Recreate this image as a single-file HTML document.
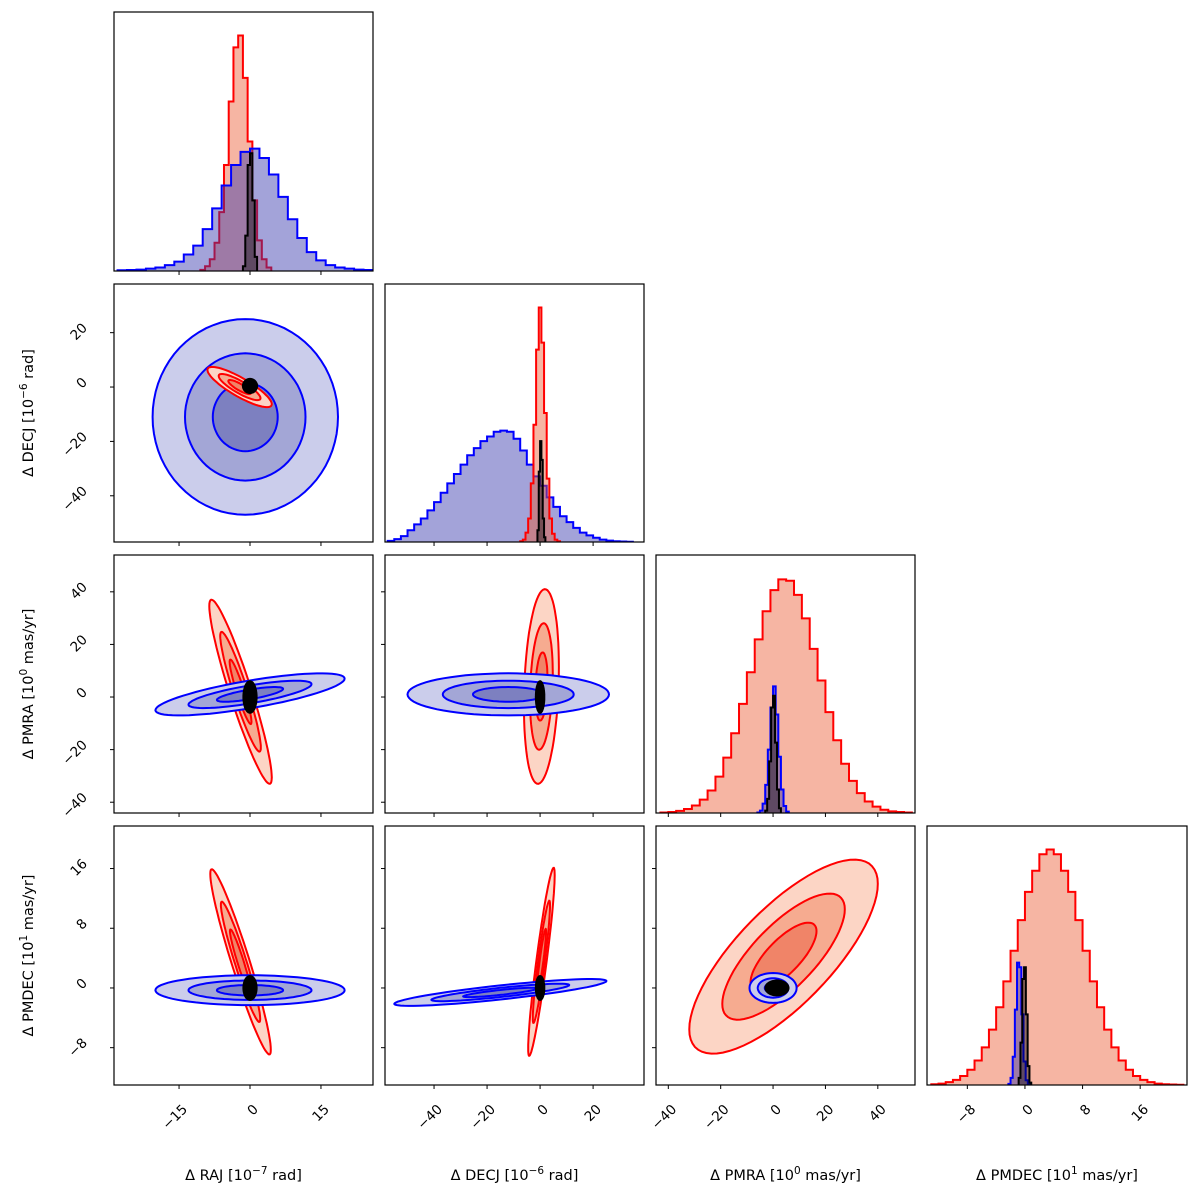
<!DOCTYPE html>
<html><head><meta charset="utf-8"><style>
html,body{margin:0;padding:0;background:#fff;}
svg{display:block;font-family:"DejaVu Sans","Liberation Sans",sans-serif;}
</style></head><body>
<svg id="chart" width="1200" height="1200" viewBox="0 0 1200 1200" xmlns="http://www.w3.org/2000/svg"></svg>
<script>
// ---------- data ----------
const varNames = ["RAJ","DECJ","PMRA","PMDEC"];
const xTicks = [[-15,0,15],[-40,-20,0,20],[-40,-20,0,20,40],[-8,0,8,16]];
const yTicks = [[],[20,0,-20,-40],[40,20,0,-20,-40],[16,8,0,-8]];
// histogram arrays: start, bin width, heights
const h0RedStart=-10.5, h0RedW=1;
const h0Red=[0.005,0.02,0.05,0.12,0.25,0.45,0.72,0.95,1.0,0.82,0.55,0.3,0.13,0.05,0.015];
const h0BlueStart=-28, h0BlueW=2;
const h0Blue=[0.003,0.004,0.006,0.01,0.015,0.025,0.04,0.07,0.108,0.178,0.266,0.363,0.45,0.506,0.52,0.48,0.41,0.315,0.22,0.14,0.08,0.045,0.025,0.015,0.01,0.006,0.004];
const h0BlackStart=-1.5, h0BlackW=0.5;
const h0Black=[0.02,0.15,0.45,0.5,0.3,0.06];
const h1RedStart=-7.5, h1RedW=1;
const h1Red=[0.003,0.01,0.04,0.1,0.25,0.5,0.82,1.0,0.85,0.55,0.27,0.1,0.035,0.01,0.003];
const h1BlueStart=-57.5, h1BlueW=2.5;
const h1Blue=[0.005,0.012,0.025,0.05,0.075,0.1,0.135,0.17,0.21,0.25,0.29,0.33,0.37,0.4,0.43,0.45,0.47,0.475,0.47,0.44,0.39,0.33,0.28,0.24,0.19,0.15,0.11,0.085,0.06,0.04,0.028,0.018,0.01,0.006,0.003,0.002,0.001];
const h1BlackStart=-1, h1BlackW=0.5;
const h1Black=[0.05,0.3,0.43,0.35,0.1,0.02];
const h2RedStart=-43, h2RedW=3;
const h2Red=[0.002,0.004,0.009,0.017,0.032,0.057,0.096,0.155,0.236,0.34,0.465,0.6,0.74,0.86,0.95,0.996,0.99,0.93,0.83,0.7,0.565,0.43,0.31,0.21,0.137,0.085,0.049,0.027,0.014,0.007,0.004,0.002];
const h2BlueStart=-6, h2BlueW=1;
const h2Blue=[0.002,0.01,0.04,0.12,0.27,0.45,0.54,0.42,0.24,0.1,0.03,0.006];
const h2BlackStart=-3, h2BlackW=0.75;
const h2Black=[0.01,0.06,0.22,0.45,0.5,0.3,0.1,0.02];
const h3RedStart=-13, h3RedW=1;
const h3Red=[0.003,0.006,0.012,0.022,0.038,0.065,0.104,0.16,0.235,0.33,0.44,0.57,0.70,0.82,0.91,0.98,1.0,0.98,0.91,0.82,0.70,0.57,0.44,0.33,0.235,0.16,0.104,0.065,0.038,0.022,0.012,0.006,0.003,0.002,0.001];
const h3BlueStart=-2.3, h3BlueW=0.3;
const h3Blue=[0.005,0.03,0.12,0.32,0.52,0.5,0.3,0.1,0.02,0.003];
const h3BlackStart=-0.875, h3BlackW=0.25;
const h3Black=[0.03,0.18,0.45,0.5,0.3,0.08,0.01];
// contour (gaussian) params per panel: [cx, cy, sx, sy, rho]
const levels = [2, 1.3, 0.7];
const c10Blue=[-1,-11,9.8,18,0], c10Red=[-2.2,0,3.4,3.7,-0.85], c10Black=[0,0.4,0.75,1.3,0];
const c20Red=[-2,2,3.3,17.5,-0.93], c20Blue=[0,1,10,4,0.75], c20Black=[0,0,0.7,3,0];
const c30Red=[-2,3.5,3.2,6.2,-0.95], c30Blue=[0,-0.3,10,1,0], c30Black=[0,0,0.7,0.8,0];
const c21Red=[0.5,4,3.3,18.5,0.2], c21Blue=[-12,1,19,4,0], c21Black=[0,0,0.8,3,0];
const c31Red=[0.5,3.5,2.5,6.3,0.92], c31Blue=[-15,-0.6,20,0.9,0.85], c31Black=[0,0,0.8,0.8,0];
const c32Red=[4,4.2,18,6.5,0.75], c32Blue=[0,0,4.5,1,0], c32Black=[1.5,0,2.2,0.5,0];

// ---------- layout ----------
const NS="http://www.w3.org/2000/svg";
const svg=document.getElementById('chart');
const colX=[114,385,656,927], colW=[259,259,259,260];
const rowY=[12,284,555,826], rowH=[259,258,258,259];
const xDom=[[-28.75,26.0],[-58.5,39.2],[-44.7,54.2],[-13.6,22.5]];
const yDom=[[0,1.1],[-57,37.9],[-44.1,54],[-13.0,21.7]];
const histMax=1.1;
function sx(c,v){return colX[c]+(v-xDom[c][0])/(xDom[c][1]-xDom[c][0])*colW[c];}
function sy(r,v){return rowY[r]+rowH[r]-(v-yDom[r][0])/(yDom[r][1]-yDom[r][0])*rowH[r];}
function hy(r,v){return rowY[r]+rowH[r]-v/histMax*rowH[r];}
function mk(tag,attrs,parent){const e=document.createElementNS(NS,tag);for(const k in attrs)e.setAttribute(k,attrs[k]);(parent||svg).appendChild(e);return e;}

const defs=mk('defs',{});
const fillCol={red:'rgb(235,90,50)',blue:'rgb(50,50,170)',black:'rgb(0,0,0)'};
const lineCol={red:'#ff0000',blue:'#0000ff',black:'#000000'};
const lvlFill={red:['#fcd5c5','#f6ab90','#f08468'],blue:['#cbcdeb','#a3a6d6','#7d80c0'],black:['#000','#000','#000']};

function clipFor(r,c){
  const cp=mk('clipPath',{id:'cp'+r+c},defs);
  mk('rect',{x:colX[c],y:rowY[r],width:colW[c],height:rowH[r]},cp);
  return 'url(#cp'+r+c+')';
}

function hist(k,start,w,vals,color,g){
  let d='M'+sx(k,start)+','+hy(k,0);
  vals.forEach((v,i)=>{const x0=sx(k,start+i*w),x1=sx(k,start+(i+1)*w),y=hy(k,v);d+=' L'+x0+','+y+' L'+x1+','+y;});
  d+=' L'+sx(k,start+vals.length*w)+','+hy(k,0);
  const f=mk('path',{d:d+' Z',fill:fillCol[color],'fill-opacity':color==='black'?0.4:0.45,stroke:'none'},g);
  
  
  const l=mk('path',{d:d,fill:'none',stroke:lineCol[color],'stroke-width':2},g);
  
  
}

function ellipsePath(r,c,p,k){
  const [cx,cy,sxv,syv,rho]=p;let d='';
  for(let i=0;i<=72;i++){const t=i/72*2*Math.PI;
    const x=cx+k*sxv*Math.cos(t), y=cy+k*syv*(rho*Math.cos(t)+Math.sqrt(1-rho*rho)*Math.sin(t));
    d+=(i?' L':'M')+sx(c,x).toFixed(1)+','+sy(r,y).toFixed(1);}
  return d+' Z';
}
function contours(r,c,p,color,g){
  levels.forEach((k,i)=>{
    const e=mk('path',{d:ellipsePath(r,c,p,k),fill:lvlFill[color][i],stroke:lineCol[color],'stroke-width':2},g);
    
    
  });
}

const hists=[
 [[h0RedStart,h0RedW,h0Red,'red'],[h0BlueStart,h0BlueW,h0Blue,'blue'],[h0BlackStart,h0BlackW,h0Black,'black']],
 [[h1BlueStart,h1BlueW,h1Blue,'blue'],[h1RedStart,h1RedW,h1Red,'red'],[h1BlackStart,h1BlackW,h1Black,'black']],
 [[h2RedStart,h2RedW,h2Red,'red'],[h2BlueStart,h2BlueW,h2Blue,'blue'],[h2BlackStart,h2BlackW,h2Black,'black']],
 [[h3RedStart,h3RedW,h3Red,'red'],[h3BlueStart,h3BlueW,h3Blue,'blue'],[h3BlackStart,h3BlackW,h3Black,'black']]];
const pairs={'10':[[c10Blue,'blue'],[c10Red,'red'],[c10Black,'black']],
 '20':[[c20Red,'red'],[c20Blue,'blue'],[c20Black,'black']],
 '30':[[c30Red,'red'],[c30Blue,'blue'],[c30Black,'black']],
 '21':[[c21Red,'red'],[c21Blue,'blue'],[c21Black,'black']],
 '31':[[c31Red,'red'],[c31Blue,'blue'],[c31Black,'black']],
 '32':[[c32Red,'red'],[c32Blue,'blue'],[c32Black,'black']]};

for(let r=0;r<4;r++)for(let c=0;c<=r;c++){
  const g=mk('g',{'clip-path':clipFor(r,c)});
  
  
  if(r===c){hists[r].forEach(h=>hist(r,h[0],h[1],h[2],h[3],g));}
  else{pairs[''+r+c].forEach(s=>contours(r,c,s[0],s[1],g));}
  const fr=mk('rect',{x:colX[c],y:rowY[r],width:colW[c],height:rowH[r],fill:'none',stroke:'#000','stroke-width':1.2});
  
  
  const yb=rowY[r]+rowH[r];
  xTicks[c].forEach(t=>{const x=sx(c,t);
    const tk=mk('line',{x1:x,x2:x,y1:yb,y2:yb+4,stroke:'#000','stroke-width':1});
    
    
    if(r===3){const tl=mk('text',{transform:'translate('+(x+9)+',1110) rotate(-45)','text-anchor':'end','font-size':13.5,fill:'#000'});
      tl.textContent=String(t).replace('-','\u2212');
      
      }
  });
  if(r!==c) yTicks[r].forEach(t=>{const y=sy(r,t);
    const tk=mk('line',{x1:colX[c]-4,x2:colX[c],y1:y,y2:y,stroke:'#000','stroke-width':1});
    
    
    if(c===0){const tl=mk('text',{transform:'translate(88,'+(y-4)+') rotate(-45)','text-anchor':'end','font-size':13.5,fill:'#000'});
      tl.textContent=String(t).replace('-','\u2212');
      
      }
  });
}
// axis labels
const labs=[['RAJ','\u22127','rad'],['DECJ','\u22126','rad'],['PMRA','0','mas/yr'],['PMDEC','1','mas/yr']];
labs.forEach((L,i)=>{
  const t=mk('text',{x:colX[i]+colW[i]/2,y:1180,'text-anchor':'middle','font-size':14.5,fill:'#000'});
  t.innerHTML='\u0394 '+L[0]+' [10<tspan dy="-6" font-size="10.5">'+L[1]+'</tspan><tspan dy="6"> '+L[2]+']</tspan>';
  
  
  if(i>0){const yc=rowY[i]+rowH[i]/2;
    const y=mk('text',{transform:'translate(33,'+yc+') rotate(-90)','text-anchor':'middle','font-size':14.5,fill:'#000'});
    y.innerHTML='\u0394 '+L[0]+' [10<tspan dy="-6" font-size="10.5">'+L[1]+'</tspan><tspan dy="6"> '+L[2]+']</tspan>';
    
    }
});
</script>
</body></html>
